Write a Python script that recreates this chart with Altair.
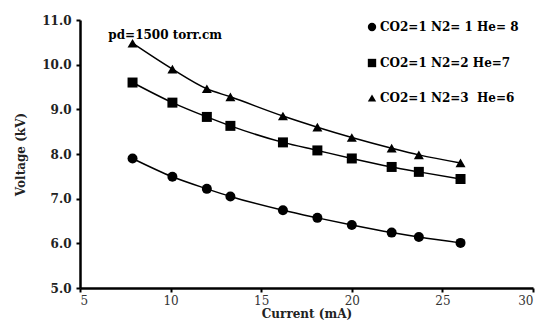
import altair as alt
import pandas as pd

current = [7.9, 10.1, 12.0, 13.3, 16.2, 18.1, 20.0, 22.2, 23.7, 26.0]
series_names = ["CO2=1 N2= 1 He= 8", "CO2=1 N2=2 He=7", "CO2=1 N2=3\u00a0 He=6"]
v_he8 = [7.90, 7.49, 7.22, 7.05, 6.74, 6.57, 6.41, 6.24, 6.14, 6.01]
v_he7 = [9.60, 9.15, 8.83, 8.63, 8.26, 8.08, 7.90, 7.71, 7.60, 7.44]
v_he6 = [10.48, 9.90, 9.46, 9.28, 8.85, 8.60, 8.37, 8.13, 7.98, 7.80]

rows = []
for name, vals in zip(series_names, [v_he8, v_he7, v_he6]):
    for c, v in zip(current, vals):
        rows.append({"current": c, "voltage": v, "series": name})
df = pd.DataFrame(rows)

FONT = "DejaVu Serif"

x = alt.X("current:Q", scale=alt.Scale(domain=[5, 30], nice=False),
          axis=alt.Axis(title="Current (mA)", values=[5, 10, 15, 20, 25, 30],
                        format="d", grid=False, labelFontWeight="normal", labelColor="#333"))
y = alt.Y("voltage:Q", scale=alt.Scale(domain=[5, 11], nice=False, zero=False),
          axis=alt.Axis(title="Voltage (kV)", values=[5, 6, 7, 8, 9, 10, 11],
                        format=".1f", grid=False, labelFontWeight="bold", labelColor="#222"))

lines = alt.Chart(df).mark_line(color="black", strokeWidth=1.5, interpolate="monotone").encode(
    x=x, y=y, detail="series:N")

points = alt.Chart(df).mark_point(filled=True, color="black", opacity=1, size=100).encode(
    x=x, y=y,
    shape=alt.Shape("series:N",
                    scale=alt.Scale(domain=series_names, range=["circle", "square", "triangle-up"]),
                    legend=alt.Legend(title=None, orient="none", legendX=286, legendY=1,
                                      labelFont=FONT, labelFontSize=12, labelFontWeight="bold",
                                      labelColor="black", symbolFillColor="black",
                                      symbolStrokeColor="black", symbolSize=70,
                                      rowPadding=20, labelOffset=2, labelLimit=300)))

ann_df = pd.DataFrame({"current": [9.7], "voltage": [10.66], "text": ["pd=1500 torr.cm"]})
ann = alt.Chart(ann_df).mark_text(font=FONT, fontSize=12, fontWeight="bold", color="black").encode(
    x="current:Q", y="voltage:Q", text="text:N")

chart = (lines + points + ann).properties(
    width=453, height=268,
    autosize=alt.AutoSizeParams(type="none"),
    padding={"left": 80, "top": 20, "right": 13, "bottom": 39},
).configure_view(stroke=None).configure_axis(
    labelFont=FONT, labelFontSize=12, titleFont=FONT, titleFontSize=12,
    titleFontWeight="bold", titleColor="#222", domainColor="black", domainWidth=2.5,
    tickColor="black", tickWidth=2, tickSize=4, labelPadding=5,
).configure_axisY(titlePadding=14).configure_axisX(titlePadding=2, labelPadding=3)

chart.save("out.html", embed_options={"renderer": "svg", "actions": False})
